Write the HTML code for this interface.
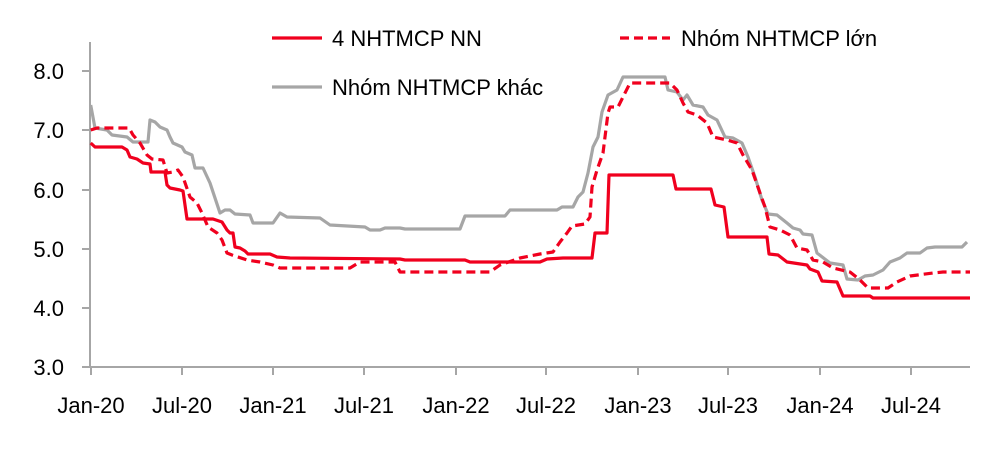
<!DOCTYPE html>
<html><head><meta charset="utf-8"><style>
html,body{margin:0;padding:0;background:#fff;}
svg{display:block;font-family:"Liberation Sans",Arial,sans-serif;}
</style></head><body>
<svg width="1006" height="452" viewBox="0 0 1006 452" xmlns="http://www.w3.org/2000/svg">
<g stroke="#a6a6a6" stroke-width="2" fill="none">
<line x1="90" y1="42" x2="90" y2="368"/>
<line x1="90" y1="367" x2="970" y2="367"/>
<line x1="82" y1="71" x2="90" y2="71"/>
<line x1="82" y1="130" x2="90" y2="130"/>
<line x1="82" y1="190" x2="90" y2="190"/>
<line x1="82" y1="249" x2="90" y2="249"/>
<line x1="82" y1="308" x2="90" y2="308"/>
<line x1="82" y1="367" x2="90" y2="367"/>
<line x1="91" y1="367" x2="91" y2="375"/>
<line x1="182" y1="367" x2="182" y2="375"/>
<line x1="273" y1="367" x2="273" y2="375"/>
<line x1="364" y1="367" x2="364" y2="375"/>
<line x1="456" y1="367" x2="456" y2="375"/>
<line x1="546" y1="367" x2="546" y2="375"/>
<line x1="638" y1="367" x2="638" y2="375"/>
<line x1="728" y1="367" x2="728" y2="375"/>
<line x1="820" y1="367" x2="820" y2="375"/>
<line x1="911" y1="367" x2="911" y2="375"/>
</g>
<g font-size="22" fill="#000" text-anchor="end">
<text x="64" y="79">8.0</text>
<text x="64" y="138">7.0</text>
<text x="64" y="198">6.0</text>
<text x="64" y="257">5.0</text>
<text x="64" y="316">4.0</text>
<text x="64" y="375">3.0</text>
</g>
<g font-size="22" fill="#000" text-anchor="middle">
<text x="91" y="413">Jan-20</text>
<text x="182" y="413">Jul-20</text>
<text x="273" y="413">Jan-21</text>
<text x="364" y="413">Jul-21</text>
<text x="456" y="413">Jan-22</text>
<text x="546" y="413">Jul-22</text>
<text x="638" y="413">Jan-23</text>
<text x="728" y="413">Jul-23</text>
<text x="820" y="413">Jan-24</text>
<text x="911" y="413">Jul-24</text>
</g>
<g fill="none" stroke-width="3.2" stroke-linejoin="round">
<polyline stroke="#a6a6a6" points="90.7,105 95,128 107,130 112,135 127,137 133,142 148,142 150,120 155,122 160,127 167,130 170,137 173,143 182,147 185,152 192,155 195,168 203,168 210,183 220,213 225,210 230,210 235,214 250,215 253,223 273,223 280,213 287,217 320,218 330,225 365,227 370,230 380,230 385,228 400,228 405,229 460,229 465,216 505,216 510,210 557,210 562,207 573,207 578,197 583,192 588,173 593,147 598,137 602,112 608,95 617,90 623,77 665,77 668,90 677,92 683,100 687,95 693,105 703,107 708,115 717,120 725,137 733,138 742,143 748,157 755,177 762,200 768,214 777,215 787,223 793,228 800,230 803,234 812,235 817,253 830,263 843,265 847,279 858,280 865,276 873,275 883,270 890,262 900,258 907,253 920,253 927,248 935,247 962,247 967,242"/>
<polyline stroke="#f0001e" stroke-dasharray="9,5" points="90.7,130 97,128 129,128 133,135 140,143 147,155 152,159 163,160 167,173 173,172 178,170 183,177 190,197 197,203 202,213 208,227 217,233 222,240 227,253 232,255 247,260 260,262 273,265 280,268 350,268 360,262 395,262 400,272 490,272 500,265 520,258 540,254 553,252 560,242 567,233 572,226 585,224 590,217 592,187 597,170 603,153 608,113 610,107 618,107 630,83 670,83 677,90 683,103 688,112 697,115 707,123 713,137 727,140 737,143 743,155 752,170 760,193 765,207 770,227 780,230 790,235 797,248 807,250 813,260 823,262 833,268 850,272 860,280 868,288 888,288 897,282 910,276 933,273 943,272 970,272"/>
<polyline stroke="#f0001e" points="90.7,143 95,147 122,147 127,150 130,157 137,159 143,163 150,164 151,172 165,172 167,185 170,188 180,190 183,191 187,219 213,219 222,222 227,230 230,233 233,233 235,247 240,248 245,251 248,254 270,254 277,257 290,258 400,259 405,260 465,260 470,262 540,262 547,259 563,258 592,258 595,233 607,233 609,175 673,175 676,189 711,189 715,205 724,207 728,237 767,237 769,254 778,255 787,262 807,265 810,269 818,272 822,281 837,282 843,296 870,296 873,298 970,298"/>
</g>
<line x1="272" y1="38" x2="322" y2="38" stroke="#f0001e" stroke-width="3.2"/>
<line x1="620" y1="38" x2="670" y2="38" stroke="#f0001e" stroke-width="3.2" stroke-dasharray="9,5"/>
<line x1="272" y1="87" x2="322" y2="87" stroke="#a6a6a6" stroke-width="3.2"/>
<g font-size="22" fill="#000">
<text x="332" y="46">4 NHTMCP NN</text>
<text x="681" y="46">Nhóm NHTMCP lớn</text>
<text x="332" y="95">Nhóm NHTMCP khác</text>
</g>
</svg>
</body></html>
